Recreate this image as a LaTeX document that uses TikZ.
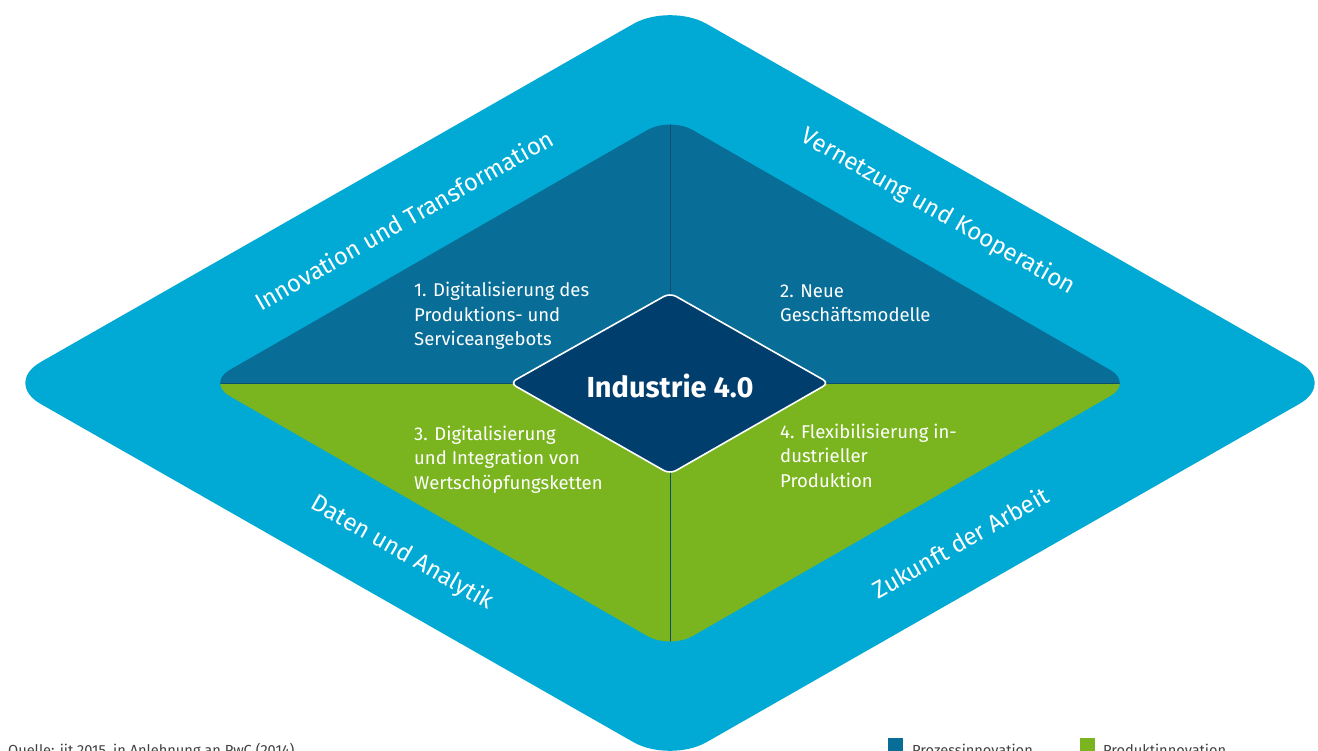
\documentclass[tikz,border=0pt]{standalone}
\usepackage{fontspec}
\setmainfont{Fira Sans}
\definecolor{outerblue}{RGB}{0,170,212}
\definecolor{procblue}{RGB}{8,110,152}
\definecolor{prodgreen}{RGB}{122,181,32}
\definecolor{navy}{RGB}{0,62,110}
\definecolor{lineblue}{RGB}{12,80,110}
\begin{document}
\begin{tikzpicture}[x=1pt,y=-1pt,
  edgelabel/.style={text=white,font=\fontsize{24}{28}\selectfont,inner sep=0pt},
  quadtext/.style={text=white,font=\fontsize{18.5}{24.5}\selectfont,align=left,anchor=base west,inner sep=0pt},
  captext/.style={text=black!75,font=\fontsize{14.6}{16}\selectfont,anchor=base west,inner sep=0pt},
  legbox/.style={minimum width=15pt,minimum height=15pt,inner sep=0pt,anchor=north west}]
\useasboundingbox (0,0) rectangle (1318,751);
\clip (0,0) rectangle (1318,751);
\fill[white] (0,0) rectangle (1318,751);
% outer diamond
\fill[outerblue,rounded corners=42pt] (670,3) -- (1336,383) -- (670,763) -- (4,383) -- cycle;
% inner diamond
\begin{scope}
\clip[rounded corners=26pt] (670,117) -- (1133,383) -- (670,649) -- (207,383) -- cycle;
\fill[procblue] (200,100) rectangle (1140,383);
\fill[prodgreen] (200,383) rectangle (1140,660);
\draw[lineblue,line width=0.8pt] (670,100) -- (670,660);
\draw[lineblue,line width=0.6pt] (200,383) -- (1140,383);
\end{scope}
% centre diamond
\draw[white,line width=1.6pt,fill=navy,rounded corners=7pt] (670,293) -- (829,383) -- (670,474) -- (510,383) -- cycle;
\node[text=white,font=\bfseries\fontsize{29}{33}\selectfont] (core) at (670,386) {Industrie 4.0};
% edge labels
\node[edgelabel,rotate=29.7] (innov) at (404,220) {Innovation und Transformation};
\node[edgelabel,rotate=-29.7] (vernetz) at (938,212) {Vernetzung und Kooperation};
\node[edgelabel,rotate=-29.7] (daten) at (402,553) {Daten und Analytik};
\node[edgelabel,rotate=29.7] (zukunft) at (960,542) {Zukunft der Arbeit};
% quadrant texts (anchor = baseline of the last line)
\node[quadtext] (q1) at (414,346) {1. Digitalisierung des\\Produktions- und\\Serviceangebots};
\node[quadtext] (q2) at (780,322) {2. Neue\\Geschäftsmodelle};
\node[quadtext] (q3) at (414,489) {3. Digitalisierung\\und Integration von\\Wertschöpfungsketten};
\node[quadtext] (q4) at (780,487) {4. Flexibilisierung in-\\dustrieller\\Produktion};
% caption and legend
\node[captext] (src) at (8,755) {Quelle: iit 2015, in Anlehnung an PwC (2014)};
\node[legbox,fill=procblue] (lb1) at (888,738) {};
\node[captext] (lt1) at (912,755) {Prozessinnovation};
\node[legbox,fill=prodgreen] (lb2) at (1080,738) {};
\node[captext] (lt2) at (1103,755) {Produktinnovation};
\end{tikzpicture}
\end{document}
